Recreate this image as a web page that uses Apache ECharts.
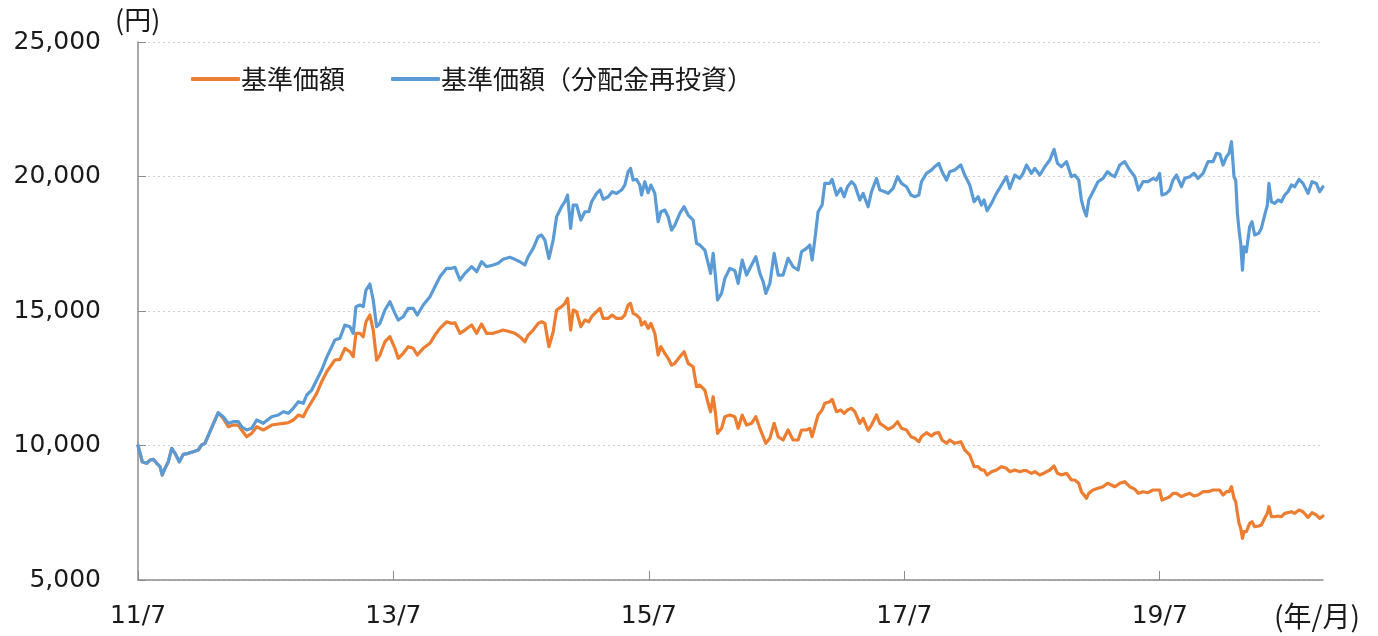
<!DOCTYPE html>
<html><head><meta charset="utf-8">
<script src="https://cdn.jsdelivr.net/npm/echarts@6/dist/echarts.min.js"></script>
<style>html,body{margin:0;padding:0;background:#fff}#c{width:1378px;height:636px}</style>
</head><body><div id="c"></div>
<script>
// months elapsed since 2011/07
const months = [0,0.40,0.82,1.13,1.44,1.76,2.07,2.28,2.54,2.85,3.17,3.48,3.88,4.26,4.72,5.19,5.66,5.98,6.29,6.76,7.17,7.54,
8.01,8.48,8.95,9.42,9.74,10.21,10.68,11.15,11.77,12.56,13.18,13.65,14.12,14.59,15.06,15.53,15.85,16.32,16.79,17.26,17.73,
18.50,18.97,19.44,19.91,20.22,20.48,20.85,21.16,21.42,21.79,22.10,22.42,22.73,23.20,23.67,24.14,24.45,24.92,25.39,25.86,26.24,26.80,27.43,27.90,28.37,29.00,29.47,29.78,30.25,30.72,31.35,31.82,32.28,32.75,33.37,33.84,34.31,34.94,35.41,35.88,36.35,36.66,37.13,
37.60,37.92,38.23,38.61,39.01,39.33,39.80,40.11,40.36,40.65,40.89,41.21,41.61,41.99,42.36,42.62,43.09,43.40,43.71,44.18,44.55,44.96,45.43,45.74,46.05,46.28,46.52,46.84,47.15,47.31,47.62,47.93,48.19,48.56,48.87,49.13,49.50,49.81,50.13,50.44,50.91,51.31,51.69,52.16,52.48,52.79,53.26,53.57,53.80,54.04,54.26,54.45,54.83,55.14,55.61,56.08,56.39,
56.77,57.18,57.65,58.05,58.43,58.74,58.99,59.37,59.77,60.15,60.61,61.08,61.55,62.02,62.34,62.81,63.12,63.34,63.59,63.90,64.28,64.53,65.00,65.22,65.63,66.03,66.35,66.66,67.04,67.35,67.82,68.13,68.60,68.92,69.39,69.70,70.17,70.48,70.95,71.36,71.74,72.21,72.62,72.99,73.37,73.61,74.08,74.55,74.86,75.24,
75.55,75.96,76.27,76.74,77.31,77.68,78.15,78.56,78.93,79.25,79.49,79.78,80.19,80.66,81.13,81.60,81.91,82.38,82.85,83.16,83.48,83.95,84.26,84.73,85.20,85.67,86.07,86.39,86.77,87.24,87.70,88.01,88.39,88.64,88.89,89.11,89.33,89.73,90.20,90.67,91.09,91.46,91.77,92.24,92.71,93.18,93.65,94.00,
94.43,94.90,95.37,95.68,95.99,96.21,96.62,96.94,97.25,97.57,98.04,98.35,98.82,99.22,99.60,100.07,100.54,101.01,101.33,101.64,101.95,102.27,102.51,102.74,102.98,103.14,103.30,103.45,103.61,103.77,103.92,104.14,104.45,104.67,104.92,105.30,105.55,105.86,106.11,106.26,106.49,106.80,107.11,107.43,107.74,108.05,108.37,108.68,109.09,109.46,109.93,110.31,110.72,111.03,111.34];

// 基準価額 (orange)
const nav = [10000,9397,9337,9460,9486,9337,9213,8903,9152,9397,9895,9709,9397,9672,9709,9770,9833,10019,10081,10512,10884,11219,
11010,10698,10761,10761,10576,10327,10452,10698,10576,10761,10799,10825,10847,10947,11133,11070,11319,11627,11939,12371,12743,
13177,13203,13612,13486,13300,14169,14169,14043,14600,14850,14292,13177,13363,13857,14043,13612,13241,13427,13673,13612,13363,13612,13798,14106,14355,14600,14540,14563,14169,14292,14478,14169,14515,14169,14169,14230,14292,14230,14169,14043,13857,14106,14292,
14540,14600,14540,13673,14230,15036,15160,15284,15470,14292,15036,14973,14415,14664,14600,14787,14973,15098,14725,14725,14850,14725,14725,14850,15222,15284,14913,14850,14725,14478,14600,14355,14540,14169,13363,13673,13427,13241,12992,13055,13300,13486,13055,12929,12185,12248,12062,11568,11256,11813,11196,10452,10638,11070,11133,11070,10640,
11133,10761,10825,11070,10638,10327,10081,10266,10825,10327,10204,10576,10204,10204,10576,10576,10638,10327,10698,11133,11319,11568,11627,11715,11256,11319,11196,11319,11382,11256,10825,11010,10576,10761,11133,10825,10698,10600,10698,10884,10638,10576,10327,10266,10142,10327,10476,10352,10452,10476,
10204,10081,10204,10081,10142,9833,9647,9213,9213,9089,9089,8903,9026,9089,9213,9152,9026,9089,9026,9063,9063,8966,9026,8903,8989,9089,9237,8966,8903,8966,8717,8717,8594,8282,8159,8036,8222,8345,8408,8468,8594,8531,8468,8594,8654,8468,8380,8222,
8282,8245,8345,8345,8345,7974,8036,8097,8222,8222,8097,8159,8222,8122,8159,8282,8282,8345,8345,8345,8159,8282,8282,8468,8036,7911,7479,7107,6921,6550,6795,6795,7107,7167,6981,7007,7044,7293,7479,7725,7353,7353,7379,7353,7479,7502,7539,7479,7602,7539,7330,7502,7416,7293,7379];

// 基準価額（分配金再投資） (blue)
const navReinvest = [10000,9397,9337,9460,9486,9337,9213,8903,9152,9397,9895,9709,9397,9672,9709,9770,9833,10019,10081,10512,10884,11219,
11070,10825,10884,10884,10698,10576,10638,10947,10825,11070,11133,11256,11196,11382,11627,11568,11877,12062,12434,12806,13278,
13921,13984,14478,14415,14169,15160,15222,15160,15779,16002,15408,14415,14540,15036,15345,14913,14664,14787,15098,15098,14850,15222,15532,15903,16274,16586,16586,16623,16151,16400,16646,16460,16832,16646,16709,16772,16921,16995,16921,16832,16709,17018,17330,
17761,17824,17638,16958,17638,18504,18876,19062,19311,18073,18939,18939,18381,18690,18690,19062,19372,19497,19151,19248,19434,19372,19497,19683,20177,20302,19868,19893,19683,19311,19806,19397,19683,19372,18318,18690,18753,18504,18010,18195,18630,18876,18567,18381,17515,17452,17266,16772,16400,17143,16274,15408,15656,16214,16586,16500,16028,
16895,16337,16709,17018,16400,16088,15656,16028,17143,16337,16337,16958,16646,16523,17203,17330,17452,16895,17638,18690,18939,19744,19744,19893,19311,19558,19248,19620,19806,19683,19125,19372,18876,19434,19930,19497,19434,19372,19558,19993,19744,19620,19311,19248,19311,19806,20117,20240,20364,20488,
20177,19868,20177,20240,20426,20054,19683,19062,19248,18939,19125,18727,19000,19372,19683,19993,19558,20054,19930,20117,20426,20117,20302,20054,20364,20612,21010,20488,20364,20550,19993,20054,19868,19125,18753,18530,19125,19434,19806,19930,20177,20054,19993,20426,20550,20240,20000,19497,
19806,19806,19930,19868,20117,19311,19372,19497,19868,20054,19620,19930,19993,20117,19930,20117,20550,20550,20860,20835,20426,20736,20860,21292,19993,19868,18630,18010,17515,16523,17389,17203,18133,18318,17824,17887,18073,18567,18939,19744,19062,19000,19125,19062,19311,19434,19683,19620,19893,19744,19372,19806,19744,19434,19620];

const seriesNames = ['基準価額', '基準価額（分配金再投資）'];
const xTickMonths = [0, 24, 48, 72, 96];
const xTickLabels = ['11/7', '13/7', '15/7', '17/7', '19/7'];
const yTicks = [5000, 10000, 15000, 20000, 25000];

const chart = echarts.init(document.getElementById('c'), null, {renderer: 'canvas'});
const numFont = "'DejaVu Sans', Verdana, sans-serif";
const cjkFont = "'Noto Sans CJK JP', 'DejaVu Sans', sans-serif";
const txt = '#1a1a1a';
const axisGray = '#8c8c8c';

chart.setOption({
  animation: false,
  backgroundColor: '#fff',
  grid: {left: 138, right: 55, top: 42, bottom: 56},
  legend: {
    left: 186, top: 61,
    itemWidth: 49, itemHeight: 4, itemGap: 46,
    icon: 'roundRect',
    textStyle: {fontFamily: cjkFont, fontSize: 26, color: txt, padding: [0,0,0,-4]},
    data: seriesNames
  },
  xAxis: {
    type: 'value', min: 0, max: 111.34,
    splitLine: {show: false},
    axisLine: {show: true, lineStyle: {color: axisGray, width: 1.5}},
    axisTick: {show: true, inside: true, length: 9, lineStyle: {color: axisGray, width: 1}, customValues: xTickMonths},
    axisLabel: {
      customValues: xTickMonths, margin: 24,
      fontFamily: numFont, fontSize: 25, color: txt,
      formatter: v => xTickLabels[xTickMonths.indexOf(v)] || ''
    }
  },
  yAxis: {
    type: 'value', min: yTicks[0], max: yTicks[yTicks.length-1], interval: 5000,
    axisLine: {show: true, lineStyle: {color: axisGray, width: 1.5}},
    axisTick: {show: true, inside: true, length: 8, lineStyle: {color: axisGray}},
    splitLine: {show: true, lineStyle: {color: '#cfcfcf', width: 1.2, type: [2, 3]}},
    axisLabel: {
      margin: 37, fontFamily: numFont, fontSize: 25, color: txt,
      formatter: v => v.toLocaleString('en-US')
    }
  },
  graphic: [
    {type: 'text', left: 115, top: 6, style: {text: '(円)', font: "27px 'Noto Sans CJK JP', sans-serif", fill: txt}},
    {type: 'text', left: 1274, top: 602, style: {text: '(年/月)', font: "28px 'Noto Sans CJK JP', sans-serif", fill: txt}}
  ],
  series: [
    {
      name: seriesNames[0], type: 'line', showSymbol: false, symbol: 'none',
      color: '#ED7D31',
      lineStyle: {width: 3.2, color: '#ED7D31', join: 'round', cap: 'round'},
      data: nav.map((v, i) => [months[i], v])
    },
    {
      name: seriesNames[1], type: 'line', showSymbol: false, symbol: 'none',
      color: '#5B9BD5',
      lineStyle: {width: 3.2, color: '#5B9BD5', join: 'round', cap: 'round'},
      data: navReinvest.map((v, i) => [months[i], v])
    }
  ]
});
</script>
</body></html>
